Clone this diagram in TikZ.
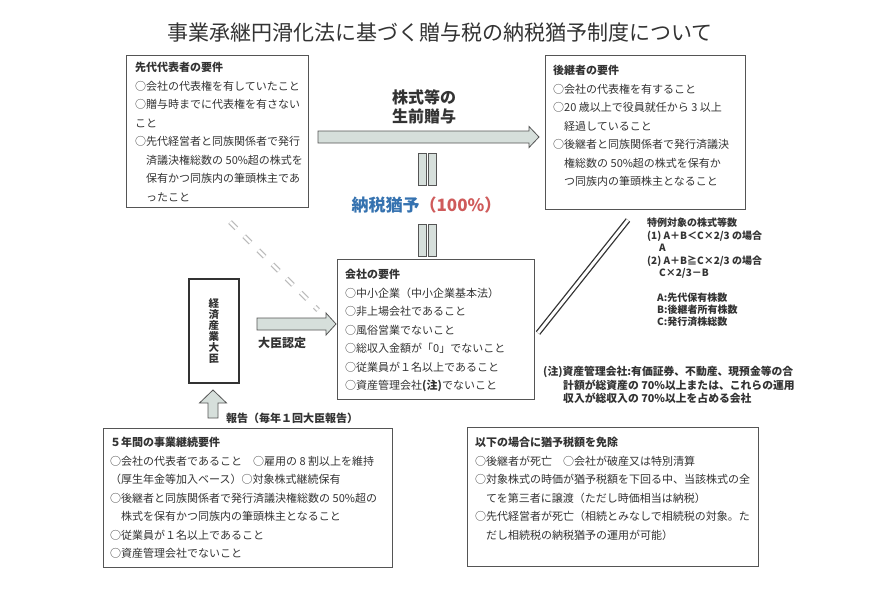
\documentclass[tikz,border=0pt]{standalone}
\usepackage{fontspec}
\setmainfont{Noto Sans CJK JP}
\usepackage{xcolor}
\definecolor{waku}{HTML}{555555}
\definecolor{yajirushi}{HTML}{D6DFDB}
\definecolor{moji}{HTML}{333333}
\definecolor{yuuyoblue}{HTML}{3572B0}
\definecolor{yuuyored}{HTML}{CF5B5B}
\definecolor{tensen}{HTML}{BBBBBB}

\begin{document}
\begin{tikzpicture}[x=1pt,y=-1pt,
  reqbox/.style={draw=waku,line width=0.9pt,inner sep=0pt,anchor=north west},
  boxtext/.style={anchor=north west,inner sep=0pt,align=left,text=moji,
    font=\fontsize{11}{18.5}\selectfont},
  blockfill/.style={draw=waku,fill=yajirushi,line width=0.8pt,line join=miter},
  barfill/.style={draw=waku,fill=yajirushi,line width=0.7pt},
  midashi/.style={text=moji,inner sep=0pt,font=\bfseries\fontsize{11}{11}\selectfont}]
  \fill[white] (0,0) rectangle (871,614);
  \useasboundingbox (0,0) rectangle (871,614);

  % title
  \node[text=moji,font=\fontsize{21}{21}\selectfont] (title) at (440,33)
    {事業承継円滑化法に基づく贈与税の納税猶予制度について};

  % frames
  \node[reqbox,minimum width=182pt,minimum height=152pt] (senko) at (126,55) {};
  \node[reqbox,minimum width=200pt,minimum height=154pt] (koukei) at (545,55) {};
  \node[reqbox,minimum width=197pt,minimum height=140pt] (kaisha) at (337,259) {};
  \node[reqbox,draw=moji,line width=1.6pt,minimum width=50pt,minimum height=104pt] (daijin) at (188,278) {};
  \node[reqbox,minimum width=289pt,minimum height=139pt] (keizoku) at (103,428) {};
  \node[reqbox,minimum width=291pt,minimum height=139pt] (menjo) at (467,427) {};

  % texts in the frames
  \node[boxtext] (senkoText) at (135,62) {\textbf{先代代表者の要件}\\
    ○会社の代表権を有していたこと\\
    ○贈与時までに代表権を有さない\\
    こと\\
    ○先代経営者と同族関係者で発行\\
    \phantom{○}済議決権総数の 50\%超の株式を\\
    \phantom{○}保有かつ同族内の筆頭株主であ\\
    \phantom{○}ったこと};
  \node[boxtext] (koukeiText) at (553,65) {\textbf{後継者の要件}\\
    ○会社の代表権を有すること\\
    ○20 歳以上で役員就任から 3 以上\\
    \phantom{○}経過していること\\
    ○後継者と同族関係者で発行済議決\\
    \phantom{○}権総数の 50\%超の株式を保有か\\
    \phantom{○}つ同族内の筆頭株主となること};
  \node[boxtext] (kaishaText) at (345,269) {\textbf{会社の要件}\\
    ○中小企業（中小企業基本法）\\
    ○非上場会社であること\\
    ○風俗営業でないこと\\
    ○総収入金額が「0」でないこと\\
    ○従業員が１名以上であること\\
    ○資産管理会社\textbf{(注)}でないこと};
  \node[midashi,align=center,font=\bfseries\fontsize{10.5}{11}\selectfont] (daijinText) at (daijin.center)
    {経\\済\\産\\業\\大\\臣};
  \node[boxtext] (keizokuText) at (110,437) {\textbf{５年間の事業継続要件}\\
    ○会社の代表者であること　○雇用の 8 割以上を維持\\
    （厚生年金等加入ベース）○対象株式継続保有\\
    ○後継者と同族関係者で発行済議決権総数の 50\%超の\\
    \phantom{○}株式を保有かつ同族内の筆頭株主となること\\
    ○従業員が１名以上であること\\
    ○資産管理会社でないこと};
  \node[boxtext] (menjoText) at (475,437) {\textbf{以下の場合に猶予税額を免除}\\
    ○後継者が死亡　○会社が破産又は特別清算\\
    ○対象株式の時価が猶予税額を下回る中、当該株式の全\\
    \phantom{○}てを第三者に譲渡（ただし時価相当は納税）\\
    ○先代経営者が死亡（相続とみなしで相続税の対象。た\\
    \phantom{○}だし相続税の納税猶予の運用が可能）};

  % notes on the right
  \node[midashi,anchor=north west,align=left,font=\bfseries\fontsize{10}{12.5}\selectfont] (tokurei) at (647,218)
    {特例対象の株式等数\\
    (1)\ A＋B＜C×2/3 の場合\\
    \hspace*{1.2em}A\\
    (2)\ A＋B≧C×2/3 の場合\\
    \hspace*{1.2em}C×2/3－B};
  \node[midashi,anchor=north west,align=left,font=\bfseries\fontsize{10}{12}\selectfont] (tokureiKey) at (657,293)
    {A:先代保有株数\\
    B:後継者所有株数\\
    C:発行済株総数};
  \node[midashi,anchor=north west,align=left,font=\bfseries\fontsize{10.8}{13.5}\selectfont] (chu) at (543,366)
    {(注)資産管理会社:有価証券、不動産、現預金等の合\\
    \hspace*{20pt}計額が総資産の 70\%以上または、これらの運用\\
    \hspace*{20pt}収入が総収入の 70\%以上を占める会社};

  % block arrows
  \coordinate (zoyoS) at (318,137);
  \draw[blockfill] (zoyoS) ++(0,-6) -- ++(211,0) -- ++(0,-4.5) -- ++(10,10.5)
    -- ++(-10,10.5) -- ++(0,-4.5) -- ++(-211,0) -- cycle;
  \node[midashi,align=center,font=\bfseries\fontsize{16}{19}\selectfont] (zoyoLabel) at (424,107)
    {株式等の\\生前贈与};
  \coordinate (ninteiS) at (257,324);
  \draw[blockfill] (ninteiS) ++(0,-6) -- ++(69,0) -- ++(0,-5) -- ++(10,11)
    -- ++(-10,11) -- ++(0,-5) -- ++(-69,0) -- cycle;
  \node[midashi,font=\bfseries\fontsize{12}{12}\selectfont] (ninteiLabel) at (282,343) {大臣認定};
  \coordinate (houkokuS) at (213,418);
  \draw[blockfill] (houkokuS) ++(-5,0) -- ++(0,-15) -- ++(-8.5,0) -- ++(13.5,-13)
    -- ++(13.5,13) -- ++(-8.5,0) -- ++(0,15) -- cycle;
  \node[midashi] (houkokuLabel) at (292,418) {報告（毎年１回大臣報告）};

  % equal bars and deferral
  \foreach \bx in {418,428} {
    \draw[barfill] (\bx,153) rectangle ++(8,32);
    \draw[barfill] (\bx,224) rectangle ++(8,32);
  }
  \node[midashi,font=\bfseries\fontsize{17}{17}\selectfont] (yuuyo) at (426.5,205)
    {\textcolor{yuuyoblue}{納税猶予}\textcolor{yuuyored}{（100\%）}};

  % diagonal links
  \coordinate (dashA) at (230,222);
  \coordinate (dashB) at (318,310);
  \draw[tensen,line width=1.3pt,double,double distance=2.5pt,dash pattern=on 9pt off 11pt] (dashA) -- (dashB);
  \coordinate (dblA) at (538,333);
  \coordinate (dblB) at (628,220);
  \draw[moji,line width=1.3pt,double,double distance=3pt] (dblA) -- (dblB);
\end{tikzpicture}
\end{document}
